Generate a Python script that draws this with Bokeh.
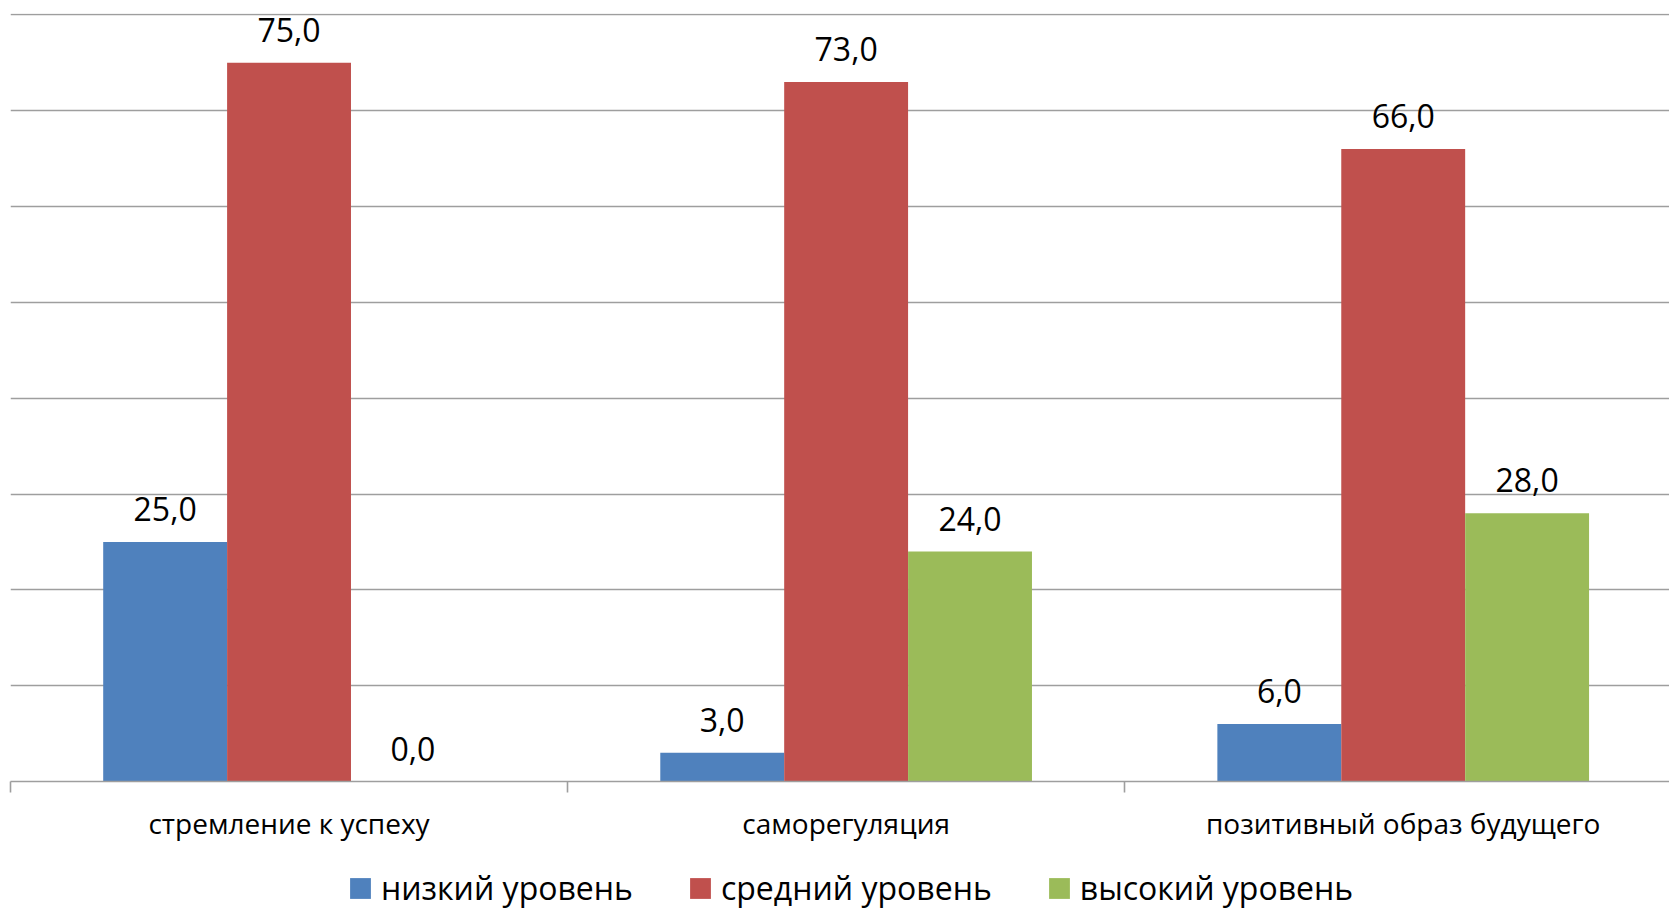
from bokeh.plotting import figure
from bokeh.layouts import column
from bokeh.models import (ColumnDataSource, FixedTicker, Legend, LegendItem, Range1d)
from bokeh.embed import file_html
from bokeh.resources import INLINE
from bokeh.core.properties import value

categories = ["стремление к успеху", "саморегуляция", "позитивный образ будущего"]
series_names = ["низкий уровень", "средний уровень", "высокий уровень"]
low_level = [25.0, 3.0, 6.0]
mid_level = [75.0, 73.0, 66.0]
high_level = [0.0, 24.0, 28.0]
colors = ["#4F81BD", "#C0504D", "#9BBB59"]

FONT = "Open Sans"
GRID = "#9E9E9E"
bar_w = 0.2224
offsets = [-bar_w, 0.0, bar_w]

p = figure(width=1669, height=845, x_range=Range1d(0, 2.978), y_range=Range1d(0, 80.15),
           output_backend="svg", toolbar_location=None, y_axis_location=None,
           min_border_left=10, min_border_right=0, min_border_top=13, min_border_bottom=64)
p.outline_line_color = None
p.background_fill_color = "white"
p.border_fill_color = "white"

p.xgrid.visible = False
p.ygrid.ticker = FixedTicker(ticks=[0, 10, 20, 30, 40, 50, 60, 70, 80])
p.ygrid.grid_line_color = GRID
p.ygrid.grid_line_width = 1.6

ax = p.xaxis[0]
ax.ticker = FixedTicker(ticks=[i + 0.5 for i in range(len(categories))],
                        minor_ticks=[float(i) for i in range(len(categories) + 1)])
ax.major_label_overrides = {i + 0.5: c for i, c in enumerate(categories)}
ax.major_tick_out = 0
ax.major_tick_in = 0
ax.minor_tick_out = 11
ax.minor_tick_in = 0
ax.minor_tick_line_color = GRID
ax.minor_tick_line_width = 1.6
ax.axis_line_color = GRID
ax.axis_line_width = 1.6
ax.major_label_standoff = 11
ax.major_label_text_font = FONT
ax.major_label_text_font_size = "28px"
ax.major_label_text_color = "black"

for series, vals, col, off in zip(series_names, [low_level, mid_level, high_level], colors, offsets):
    src = ColumnDataSource(dict(
        x=[i + 0.5 + off for i in range(len(categories))],
        top=vals,
        label=[f"{v:.1f}".replace(".", ",") for v in vals],
    ))
    p.vbar(x="x", top="top", bottom=0, width=bar_w, source=src,
           fill_color=col, line_color=None)
    p.text(x="x", y="top", text="label", source=src, text_align="center",
           text_baseline="alphabetic", y_offset=-33, text_font=value(FONT),
           text_font_size="32px", text_color="black")

# legend strip below the chart (zero-size proxy glyphs carry the series colours)
lg = figure(width=1669, height=64, x_range=Range1d(0, 1), y_range=Range1d(0, 1),
            output_backend="svg", toolbar_location=None, x_axis_location=None,
            y_axis_location=None, min_border=0)
lg.outline_line_color = None
lg.xgrid.visible = False
lg.ygrid.visible = False
leg_renderers = [lg.vbar(x=[0], top=[0], bottom=0, width=0, fill_color=c, line_color=None)
                 for c in colors]
legend = Legend(items=[LegendItem(label=n, renderers=[r]) for n, r in zip(series_names, leg_renderers)],
                orientation="horizontal", location=(337, 0), spacing=54,
                glyph_width=26, glyph_height=26, label_standoff=8,
                label_text_font=FONT, label_text_font_size="32px",
                label_text_color="black", padding=0, margin=0,
                border_line_color=None, background_fill_alpha=0)
lg.add_layout(legend, "center")

layout = column(p, lg, spacing=0)
open("out.html", "w").write(file_html(layout, INLINE))
